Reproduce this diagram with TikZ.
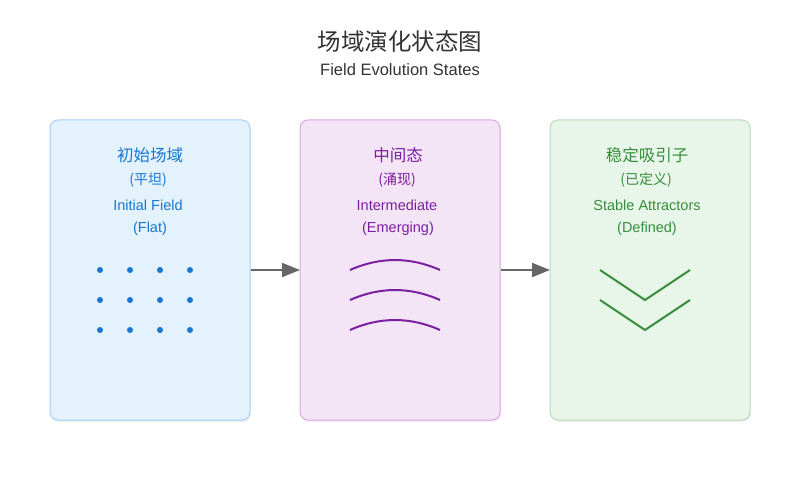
\documentclass[tikz,border=0pt]{standalone}
\usepackage{fontspec}
\setmainfont{Liberation Sans}
\newfontfamily\cjk{Noto Sans CJK SC}
\usetikzlibrary{arrows.meta,shadows}
\definecolor{bluefill}{HTML}{E3F2FD}
\definecolor{bluedraw}{HTML}{A6D0F5}
\definecolor{bluetext}{HTML}{1976D2}
\definecolor{purfill}{HTML}{F3E5F5}
\definecolor{purdraw}{HTML}{D8A8E0}
\definecolor{purtext}{HTML}{7B1FA2}
\definecolor{grnfill}{HTML}{E8F5E9}
\definecolor{grndraw}{HTML}{B5DDB7}
\definecolor{grntext}{HTML}{388E3C}
\definecolor{titlegray}{HTML}{333333}
\definecolor{arrowgray}{HTML}{666666}
\tikzset{
  statebox/.style={draw=#1, line width=1pt, rounded corners=8pt, minimum width=200pt, minimum height=300pt, inner sep=0pt,
    drop shadow={opacity=0.12, shadow xshift=1pt, shadow yshift=-2pt}},
  cjkline/.style={font=\cjk\fontsize{16.5}{19}\selectfont, text=#1},
  subline/.style={font=\cjk\fontsize{14}{17}\selectfont, text=#1},
  enline/.style={font=\fontsize{14.5}{17}\selectfont, text=#1},
  flow/.style={draw=arrowgray, line width=2pt, -{Triangle[length=18pt,width=14pt]}, shorten >=-0.5pt},
  glyph/.style={line width=2pt},
}
\begin{document}
\begin{tikzpicture}[x=1pt,y=-1pt]
\useasboundingbox (0,0) rectangle (800,500);
\node[font=\cjk\fontsize{23.5}{28}\selectfont, text=titlegray] (title) at (400,42) {场域演化状态图};
\node[font=\fontsize{16.5}{19}\selectfont, text=titlegray] (subtitle) at (400,70) {Field Evolution States};

\node[statebox=bluedraw, fill=bluefill] (b1) at (150,270) {};
\node[statebox=purdraw, fill=purfill] (b2) at (400,270) {};
\node[statebox=grndraw, fill=grnfill] (b3) at (650,270) {};

\node[cjkline=bluetext] (t1a) at (150,155) {初始场域};
\node[subline=bluetext] (t1b) at (148,180) {(平坦)};
\node[enline=bluetext] (t1c) at (148,205) {Initial Field};
\node[enline=bluetext] (t1d) at (150,229) {(Flat)};

\node[cjkline=purtext] (t2a) at (398,155) {中间态};
\node[subline=purtext] (t2b) at (397,180) {(涌现)};
\node[enline=purtext] (t2c) at (397,205) {Intermediate};
\node[enline=purtext] (t2d) at (398,229) {(Emerging)};

\node[cjkline=grntext] (t3a) at (647,155) {稳定吸引子};
\node[subline=grntext] (t3b) at (646,180) {(已定义)};
\node[enline=grntext] (t3c) at (647,205) {Stable Attractors};
\node[enline=grntext] (t3d) at (647,229) {(Defined)};

\foreach \yy in {270,300,330}{
  \foreach \xx in {100,130,160,190}{
    \fill[bluetext] (\xx,\yy) circle (3pt);
  }
}

\foreach \yy in {270,300,330}{
  \draw[purtext, glyph] (350,\yy) .. controls (380,{\yy-13.3}) and (410,{\yy-13.3}) .. (440,\yy);
}

\foreach \yy in {270,300}{
  \draw[grntext, glyph] (600,\yy) -- (645,{\yy+30}) -- (690,\yy);
}

\draw[flow] (b1.east) -- (b2.west);
\draw[flow] (b2.east) -- (b3.west);
\end{tikzpicture}
\end{document}
